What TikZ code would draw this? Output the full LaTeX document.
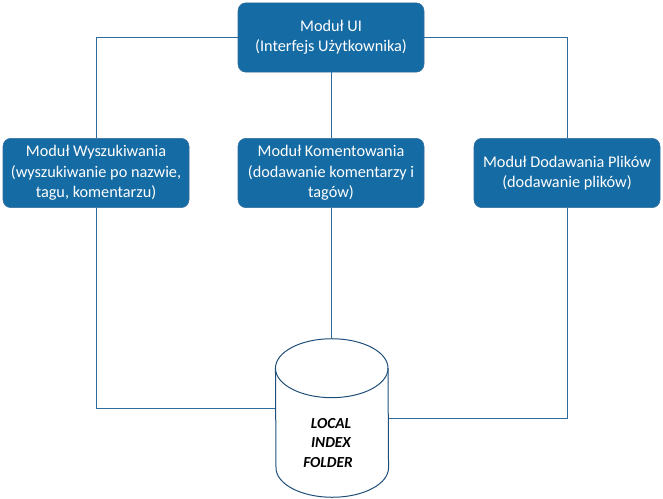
\documentclass[tikz,border=0pt]{standalone}
\usepackage{fontspec}
\setmainfont{Carlito}
\usetikzlibrary{positioning}
\definecolor{ModBlue}{HTML}{156BA3}
\definecolor{LineBlue}{HTML}{2F6C9E}
\definecolor{CylBlue}{HTML}{1F4E79}

\begin{document}
\begin{tikzpicture}[x=0.75pt,y=-0.75pt,
  modul/.style={draw=LineBlue, fill=ModBlue, rounded corners=6pt, minimum width=139.5pt,
              minimum height=52pt, align=center, inner sep=0pt, text=white,
              font=\fontsize{12.2}{15.3}\selectfont,
              execute at begin node={\rule{0pt}{14pt}}},
  conn/.style={draw=LineBlue, line width=0.75pt},
  zyl/.style={draw=CylBlue, line width=0.75pt},
  zylr/.style={x radius=42.2pt, y radius=22.1pt}
]
  \useasboundingbox (0,0) rectangle (663,499);
  \node[modul] (ui) at (331,37.5) {Moduł UI\\(Interfejs Użytkownika)};
  \node[modul] (szukaj) at (96,173)
    {Moduł Wyszukiwania\\(wyszukiwanie po nazwie,\\tagu, komentarzu)};
  \node[modul] (koment) at (331,173)
    {Moduł Komentowania\\(dodawanie komentarzy i\\tagów)};
  \node[modul] (pliki) at (567,173) {Moduł Dodawania Plików\\(dodawanie plików)};
  \node[minimum width=84.4pt, minimum height=118.5pt, inner sep=0pt] (baza) at (332,418) {};
  \draw[zyl] ([yshift=-22.1pt]baza.north west) arc[start angle=180, end angle=0, zylr]
    -- ([yshift=22.1pt]baza.south east) arc[start angle=0, end angle=-180, zylr] -- cycle;
  \draw[zyl] ([yshift=-22.1pt]baza.north west) arc[start angle=180, end angle=360, zylr];
  \node[align=center, font=\fontsize{11.5}{14.3}\selectfont\bfseries\itshape] (etykieta)
    at (331,443) {LOCAL\\INDEX\\FOLDER\hspace*{4.5pt}};
  % polaczenia
  \coordinate (ld) at (96,408.5);
  \coordinate (pd) at (567,418.5);
  \draw[conn] (ui.west) -| (szukaj.north);
  \draw[conn] (ui.east) -| (pliki.north);
  \draw[conn] (ui.south) -- (koment.north);
  \draw[conn] (koment.south) -- (baza.north -| koment.south);
  \draw[conn] (szukaj.south) -- (ld) -- (baza.west |- ld);
  \draw[conn] (pliki.south) -- (pd) -- (baza.east |- pd);
\end{tikzpicture}
\end{document}
